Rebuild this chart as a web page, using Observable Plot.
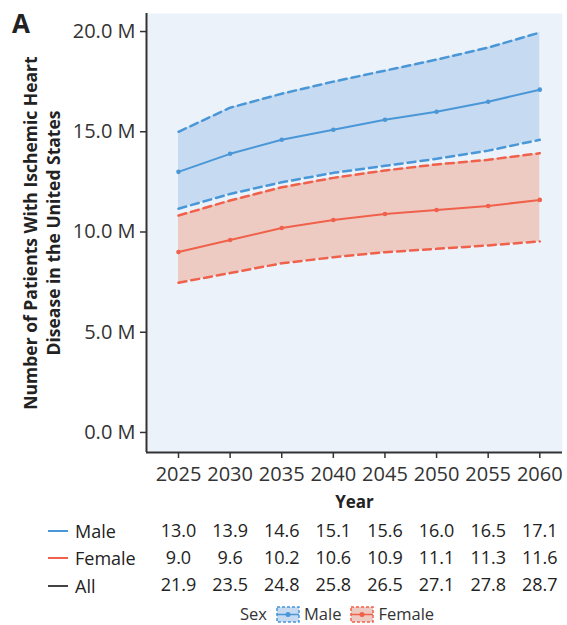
<!DOCTYPE html>
<html>
<head>
<meta charset="utf-8">
<script src="https://cdn.jsdelivr.net/npm/d3@7"></script>
<script src="https://cdn.jsdelivr.net/npm/@observablehq/plot@0.6"></script>
<style>
  body { margin: 0; background: #fff; font-family: "Open Sans", sans-serif; color: #333; overflow: hidden; }
  #wrap { position: relative; width: 567px; height: 625px; }
  #panelLetter { position: absolute; left: 12px; top: 5px; font: bold 26px "Open Sans", sans-serif; color: #222; }
  #rowLabels { position: absolute; left: 48px; top: 512px; }
  .rl { position: absolute; left: 0; display: flex; align-items: center; height: 26px; font-size: 18px; font-weight: 500; color: #222; white-space: nowrap; }
  .rl .sw { display: inline-block; width: 20px; height: 2px; margin-right: 7px; }
  #legend { position: absolute; left: 240px; top: 604px; display: flex; align-items: center; font-size: 16.5px; line-height: 20px; font-weight: 500; color: #333; height: 20px; }
  #legend svg { margin: 0 4px 0 9px; }
</style>
</head>
<body>
<div id="wrap">
  <div id="chart"></div>
  <div id="table"></div>
  <div id="legend"></div>
  <div id="panelLetter">A</div>
  <div id="rowLabels"></div>
</div>
<script>
const years = [2025, 2030, 2035, 2040, 2045, 2050, 2055, 2060];
const maleMean = [13.0, 13.9, 14.6, 15.1, 15.6, 16.0, 16.5, 17.1];
const maleLower = [11.16, 11.9, 12.48, 12.95, 13.3, 13.65, 14.06, 14.6];
const maleUpper = [15.0, 16.2, 16.9, 17.5, 18.05, 18.6, 19.2, 19.95];
const femaleMean = [9.0, 9.6, 10.2, 10.6, 10.9, 11.1, 11.3, 11.6];
const femaleLower = [7.47, 7.95, 8.44, 8.74, 8.99, 9.16, 9.33, 9.53];
const femaleUpper = [10.82, 11.57, 12.23, 12.7, 13.07, 13.37, 13.6, 13.93];
const allTotal = [21.9, 23.5, 24.8, 25.8, 26.5, 27.1, 27.8, 28.7];
const yTicks = [0, 5, 10, 15, 20];
const rowNames = ["Male", "Female", "All"];
const yLabel = "Number of Patients With Ischemic Heart\nDisease in the United States";

const xDomain = [2021.9, 2062.2];
const yDomain = [-1, 20.9];
const colors = { Male: "#4a97d8", Female: "#f0614b", All: "#444" };
const bandFill = { Male: "#c6daf1", Female: "#eecbc2" };

const male = years.map((y, i) => ({ year: y, sex: "Male", mean: maleMean[i], lo: maleLower[i], hi: maleUpper[i] }));
const female = years.map((y, i) => ({ year: y, sex: "Female", mean: femaleMean[i], lo: femaleLower[i], hi: femaleUpper[i] }));

function bandMarks(data, sex) {
  return [
    Plot.areaY(data, { x: "year", y1: "lo", y2: "hi", fill: bandFill[sex] }),
    Plot.line(data, { x: "year", y: "hi", stroke: colors[sex], strokeWidth: 2.5, strokeDasharray: "8,5" }),
    Plot.line(data, { x: "year", y: "lo", stroke: colors[sex], strokeWidth: 2.5, strokeDasharray: "8,5" }),
    Plot.line(data, { x: "year", y: "mean", stroke: colors[sex], strokeWidth: 2 }),
    Plot.dot(data, { x: "year", y: "mean", fill: colors[sex], r: 2.3 })
  ];
}

const chart = Plot.plot({
  width: 567,
  height: 512,
  marginTop: 13,
  marginBottom: 60,
  marginLeft: 146,
  marginRight: 5,
  style: { fontFamily: "Open Sans, sans-serif", color: "#333", background: "transparent", fontWeight: 500 },
  x: { domain: xDomain },
  y: { domain: yDomain },
  marks: [
    Plot.frame({ fill: "#ebf2fa", stroke: null }),
    ...bandMarks(male, "Male"),
    ...bandMarks(female, "Female"),
    Plot.ruleX([xDomain[0]], { stroke: "#333", strokeWidth: 2 }),
    Plot.ruleY([yDomain[0]], { stroke: "#333", strokeWidth: 2 }),
    Plot.axisY({ ticks: yTicks, tickFormat: d => d.toFixed(1) + " M", tickSize: 6, tickPadding: 5, fontSize: 20, label: null, stroke: "#333", strokeWidth: 1.5 }),
    Plot.axisX({ ticks: years, tickFormat: d => String(d), tickSize: 6, tickPadding: 8, fontSize: 20, label: null, stroke: "#333", strokeWidth: 1.5 }),
    Plot.text(["Year"], { frameAnchor: "bottom", dy: 55, fontSize: 17, fontWeight: "bold", fill: "#222" }),
    Plot.text([yLabel], { frameAnchor: "left", rotate: -90, dx: -105, fontSize: 17.5, fontWeight: "bold", lineHeight: 1.28, fill: "#222", textAnchor: "middle", lineAnchor: "middle" })
  ]
});
document.getElementById("chart").appendChild(chart);

const tableData = [];
years.forEach((y, i) => {
  tableData.push({ year: y, row: "Male", v: maleMean[i] });
  tableData.push({ year: y, row: "Female", v: femaleMean[i] });
  tableData.push({ year: y, row: "All", v: allTotal[i] });
});

const table = Plot.plot({
  width: 567,
  height: 92,
  marginTop: 5,
  marginBottom: 4.5,
  marginLeft: 146,
  marginRight: 5,
  style: { fontFamily: "Open Sans, sans-serif", color: "#222", background: "transparent", fontWeight: 500 },
  x: { domain: xDomain, axis: null },
  y: { type: "point", domain: rowNames, axis: null },
  marks: [
    Plot.text(tableData, { x: "year", y: "row", text: d => d.v.toFixed(1), fontSize: 18, fill: "#222" })
  ]
});
document.getElementById("table").appendChild(table);

// row labels with line swatches
const rl = document.getElementById("rowLabels");
rowNames.forEach((name, i) => {
  const div = document.createElement("div");
  div.className = "rl";
  div.style.top = (5 + 13.75 + i * 27.5 - 13) + "px";
  div.innerHTML = `<span class="sw" style="background:${colors[name]}"></span>${name}`;
  rl.appendChild(div);
});

// legend
const lg = document.getElementById("legend");
lg.innerHTML = `<span>Sex</span>` + ["Male", "Female"].map(s => `
  <svg width="24" height="17" viewBox="0 0 24 17">
    <rect x="1" y="1" width="22" height="15" fill="${bandFill[s]}" stroke="${colors[s]}" stroke-width="1.5" stroke-dasharray="3,2"/>
    <line x1="1" x2="23" y1="8.5" y2="8.5" stroke="${colors[s]}" stroke-width="1.5"/>
    <circle cx="12" cy="8.5" r="2.5" fill="${colors[s]}"/>
  </svg><span>${s}</span>`).join("");
</script>
</body>
</html>
